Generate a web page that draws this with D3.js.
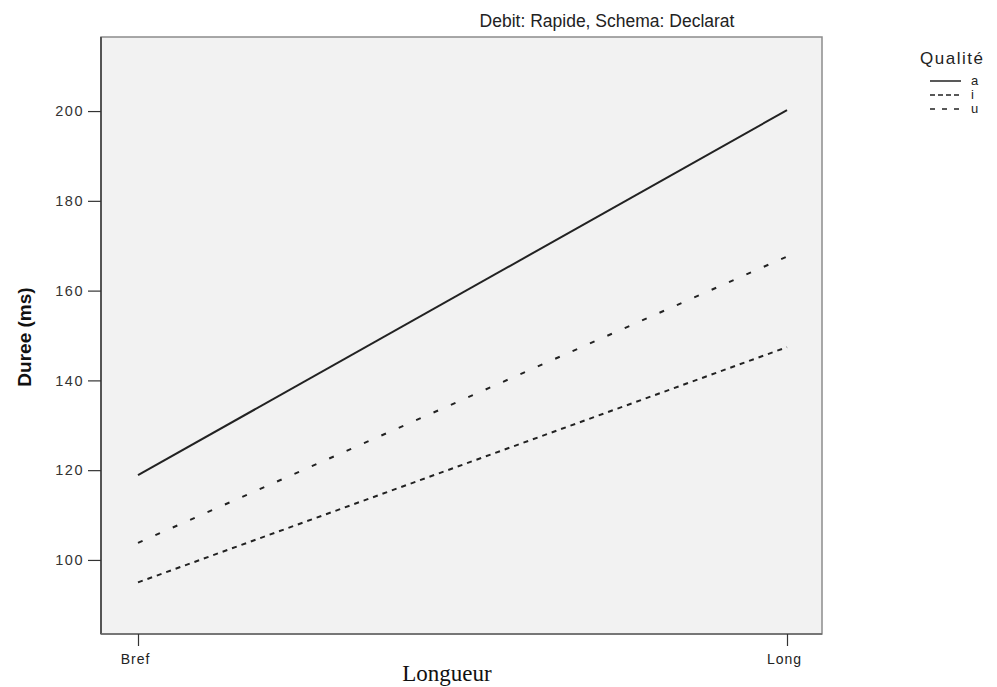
<!DOCTYPE html>
<html>
<head>
<meta charset="utf-8">
<script src="https://cdn.jsdelivr.net/npm/d3@7"></script>
<style>
  html, body { margin: 0; padding: 0; background: #fff; }
  svg { display: block; }
</style>
</head>
<body>
<svg id="chart" width="997" height="687"></svg>
<script>
// Categories on the x axis
const categories = ["Bref", "Long"];
// Mean duration (ms) per vowel quality
const seriesNames = ["a", "i", "u"];
const valuesA = [118.9, 200.2];
const valuesI = [95.0, 147.4];
const valuesU = [103.8, 167.6];
const yTicks = [100, 120, 140, 160, 180, 200];

const series = [
  { name: seriesNames[0], values: valuesA, dash: null, legendDash: null },
  { name: seriesNames[1], values: valuesI, dash: "5,5", legendDash: "5,3" },
  { name: seriesNames[2], values: valuesU, dash: "5,14", legendDash: "5,7" }
];

const svg = d3.select("#chart");
const plot = { left: 101, top: 37, right: 822, bottom: 634 };
const sans = "'Liberation Sans', Arial, sans-serif";

const x = d3.scalePoint()
  .domain(categories)
  .range([138, 787]);

const y = d3.scaleLinear()
  .domain([83.5, 216.5])
  .range([plot.bottom, plot.top]);

// Plot background
svg.append("rect")
  .attr("x", plot.left).attr("y", plot.top)
  .attr("width", plot.right - plot.left)
  .attr("height", plot.bottom - plot.top)
  .attr("fill", "#f2f2f2")
  .attr("stroke", "#8c8c8c")
  .attr("stroke-width", 1.5);

// Darker left and bottom frame edges
svg.append("line")
  .attr("x1", plot.left).attr("x2", plot.left)
  .attr("y1", plot.top).attr("y2", plot.bottom)
  .attr("stroke", "#555").attr("stroke-width", 2);
svg.append("line")
  .attr("x1", plot.left).attr("x2", plot.right)
  .attr("y1", plot.bottom).attr("y2", plot.bottom)
  .attr("stroke", "#666").attr("stroke-width", 1.5);

// Y axis
const yAxis = d3.axisLeft(y).tickValues(yTicks).tickSize(13).tickPadding(4);
const gy = svg.append("g")
  .attr("transform", `translate(${plot.left},0)`)
  .call(yAxis);
gy.select(".domain").remove();
gy.selectAll(".tick line").attr("stroke", "#333").attr("stroke-width", 1.2);
gy.selectAll(".tick text")
  .attr("fill", "#333")
  .style("font-family", sans)
  .style("font-size", "14.5px")
  .style("letter-spacing", "1.5px");

// X axis
const xAxis = d3.axisBottom(x).tickSize(12).tickPadding(8);
const gx = svg.append("g")
  .attr("transform", `translate(0,${plot.bottom})`)
  .call(xAxis);
gx.select(".domain").remove();
gx.selectAll(".tick line").attr("stroke", "#333").attr("stroke-width", 1.2);
gx.selectAll(".tick text")
  .attr("fill", "#222")
  .style("font-family", sans)
  .style("font-size", "14px")
  .style("letter-spacing", "1px")
  .attr("dx", "-3");

// Lines
const line = d3.line()
  .x((d, i) => x(categories[i]))
  .y(d => y(d));

svg.append("g").selectAll("path")
  .data(series)
  .join("path")
  .attr("d", d => line(d.values))
  .attr("fill", "none")
  .attr("stroke", "#222")
  .attr("stroke-width", 2)
  .attr("stroke-dasharray", d => d.dash);

// Title
svg.append("text")
  .attr("x", 607).attr("y", 27)
  .attr("text-anchor", "middle")
  .attr("fill", "#222")
  .style("font-family", sans)
  .style("font-size", "17.5px")
  .text("Debit: Rapide, Schema: Declarat");

// Axis titles
svg.append("text")
  .attr("transform", "translate(31,337) rotate(-90)")
  .attr("text-anchor", "middle")
  .attr("fill", "#111")
  .style("font-family", sans)
  .style("font-size", "19px")
  .style("font-weight", "bold")
  .text("Duree (ms)");

svg.append("text")
  .attr("x", 447).attr("y", 681)
  .attr("text-anchor", "middle")
  .attr("fill", "#111")
  .style("font-family", "'Liberation Serif', 'Times New Roman', serif")
  .style("font-size", "23px")
  .text("Longueur");

// Legend
const legend = svg.append("g");
legend.append("text")
  .attr("x", 920).attr("y", 64)
  .attr("fill", "#222")
  .style("font-family", sans)
  .style("font-size", "17px")
  .style("letter-spacing", "1.5px")
  .text("Qualité");

const items = legend.selectAll("g.item")
  .data(series)
  .join("g")
  .attr("class", "item")
  .attr("transform", (d, i) => `translate(0,${81 + i * 14})`);
items.append("line")
  .attr("x1", 930).attr("x2", 961)
  .attr("y1", 0).attr("y2", 0)
  .attr("stroke", "#222")
  .attr("stroke-width", 1.5)
  .attr("stroke-dasharray", d => d.legendDash);
items.append("text")
  .attr("x", 971).attr("y", 4)
  .attr("fill", "#222")
  .style("font-family", sans)
  .style("font-size", "13px")
  .text(d => d.name);
</script>
</body>
</html>
